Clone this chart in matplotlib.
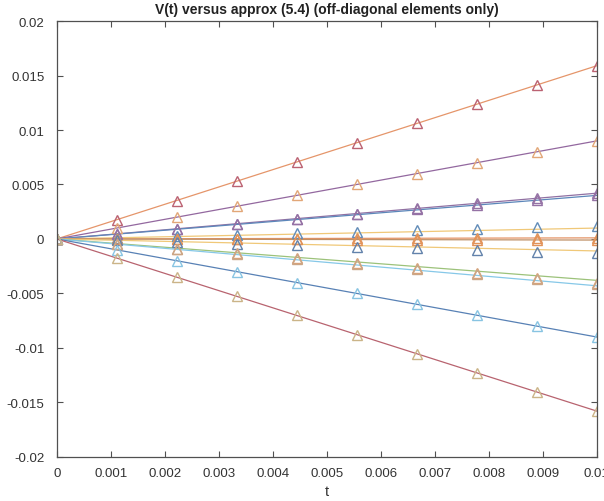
import matplotlib
matplotlib.use("Agg")
import matplotlib.pyplot as plt
from matplotlib.ticker import FuncFormatter

plt.rcParams['font.family'] = ['Liberation Sans', 'DejaVu Sans']

# V(t) off-diagonal elements: straight lines from the origin
t_line = [0.0, 0.01]
v_end = [0.0159, 0.0090, 0.0042, 0.0040, 0.0010, 0.0001,
         -0.0001, -0.0011, -0.0038, -0.0043, -0.0090, -0.0158]
line_colors = ['#e5956a', '#93689f', '#9070a2', '#5c87ba', '#f0c878', '#e39365',
               '#bf9066', '#f0c878', '#9cc27a', '#86c8e8', '#5881b5', '#b8636f']

# approx (5.4), sampled at 10 points
t_mark = [0.0, 0.001111, 0.002222, 0.003333, 0.004444, 0.005556,
          0.006667, 0.007778, 0.008889, 0.01]
approx = [
    [0, 0.00177, 0.00353, 0.0053, 0.00707, 0.00883, 0.0106, 0.01237, 0.01413, 0.0159],
    [0, 0.0010, 0.0020, 0.0030, 0.0040, 0.0050, 0.0060, 0.0070, 0.0080, 0.0090],
    [0, 0.00047, 0.00093, 0.0014, 0.00187, 0.00233, 0.0028, 0.00327, 0.00373, 0.0042],
    [0, 0.00045, 0.0009, 0.00136, 0.00181, 0.00226, 0.00271, 0.00316, 0.00362, 0.00407],
    [0, 0.00013, 0.00027, 0.0004, 0.00053, 0.00067, 0.0008, 0.00093, 0.00107, 0.0012],
    [0, 0.00001, 0.00002, 0.00003, 0.00004, 0.00006, 0.00007, 0.00008, 0.00009, 0.0001],
    [0, -0.00001, -0.00002, -0.00003, -0.00004, -0.00006, -0.00007, -0.00008, -0.00009, -0.0001],
    [0, -0.00014, -0.00029, -0.00043, -0.00058, -0.00072, -0.00087, -0.00101, -0.00116, -0.0013],
    [0, -0.00044, -0.00089, -0.00133, -0.00178, -0.00222, -0.00267, -0.00311, -0.00356, -0.0040],
    [0, -0.00046, -0.00091, -0.00137, -0.00182, -0.00228, -0.00273, -0.00319, -0.00364, -0.0041],
    [0, -0.001, -0.002, -0.003, -0.004, -0.005, -0.006, -0.007, -0.008, -0.009],
    [0, -0.00176, -0.00351, -0.00527, -0.00702, -0.00878, -0.01053, -0.01229, -0.01404, -0.0158],
]
mark_colors = ['#bb6272', '#e2a778', '#9572a5', '#9572a5', '#628cb8', '#e29258',
               '#e29258', '#6282ab', '#dba278', '#cba686', '#88c4e2', '#cbb488']

fig = plt.figure(figsize=(6.04, 5.02), dpi=100)
ax = fig.add_axes([0.094, 0.088, 0.894, 0.868])

for v, c in zip(v_end, line_colors):
    ax.plot(t_line, [0, v], color=c, lw=0.9)
for a, c in zip(approx, mark_colors):
    ax.plot(t_mark, a, ls='none', marker='^', ms=7.5, mfc='none', mec=c, mew=1.0)

ax.set_xlim(0, 0.01)
ax.set_ylim(-0.02, 0.02)
ax.set_xticks([i * 0.001 for i in range(11)])
ax.set_yticks([-0.02, -0.015, -0.01, -0.005, 0, 0.005, 0.01, 0.015, 0.02])
fmt = FuncFormatter(lambda x, p: '%g' % round(x, 6))
ax.xaxis.set_major_formatter(fmt)
ax.yaxis.set_major_formatter(fmt)
ax.tick_params(direction='in', top=True, right=True, length=4, width=0.8,
               labelsize=9.5, colors='#505050', labelcolor='#333333')
ax.tick_params(axis='x', pad=7)
ax.tick_params(axis='y', pad=9)
for s in ax.spines.values():
    s.set_color('#505050')
    s.set_linewidth(0.9)

ax.set_xlabel('t', fontsize=10.5, color='#333333', labelpad=4)
ax.set_title('V(t) versus approx (5.4) (off-diagonal elements only)',
             fontsize=10, fontweight='bold', color='#222222', pad=6)

fig.savefig('out.png', dpi=100)
